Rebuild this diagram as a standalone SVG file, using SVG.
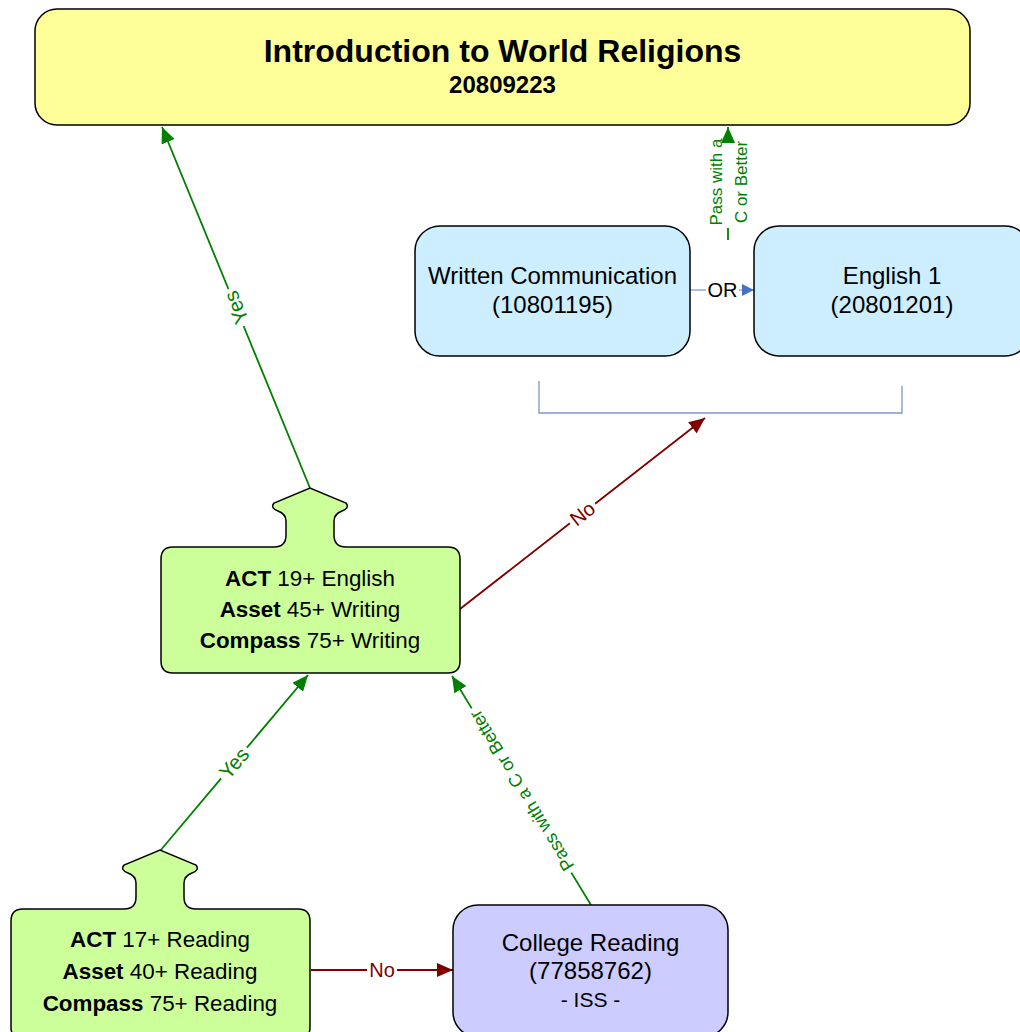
<svg xmlns="http://www.w3.org/2000/svg" width="1020" height="1032" viewBox="0 0 1020 1032">
<style>
text{font-family:"Liberation Sans",Arial,sans-serif}
.node{stroke:#000;stroke-width:1.5}
.yellow{fill:#ffff99}
.blue{fill:#cceeff}
.purple{fill:#ccccff}
.green{fill:#ccff99}
.t24{font-size:24px;fill:#000;text-anchor:middle}
.t22{font-size:22.4px;fill:#000;text-anchor:middle}
.g{stroke:#008000;stroke-width:1.8;fill:none}
.r{stroke:#800000;stroke-width:1.8;fill:none}
.gl{fill:#008000;font-size:20.5px;text-anchor:middle}
.rl{fill:#800000;font-size:20px;text-anchor:middle}
</style>
<defs>
<marker id="ag" markerUnits="userSpaceOnUse" markerWidth="16" markerHeight="14" refX="16" refY="7" orient="auto"><path d="M0,0 L16,7 L0,14 Z" fill="#008000"/></marker>
<marker id="ar" markerUnits="userSpaceOnUse" markerWidth="16" markerHeight="14" refX="16" refY="7" orient="auto"><path d="M0,0 L16,7 L0,14 Z" fill="#800000"/></marker>
<marker id="ab" markerUnits="userSpaceOnUse" markerWidth="12" markerHeight="12" refX="12" refY="6" orient="auto"><path d="M0,0 L12,6 L0,12 Z" fill="#4472c4"/></marker>
</defs>

<g id="connectors">
<path d="M690,290 L706,290 M739,290 L754,290" stroke="#8faadc" stroke-width="1.5" fill="none" marker-end="url(#ab)"/>
<text x="722.5" y="297" font-size="20" text-anchor="middle" fill="#000">OR</text>
<path d="M539,381 V413 H902 V386" stroke="#7d97c7" stroke-width="1.3" fill="none"/>
<path class="g" d="M728,240 L728,228 M728,140 L728,127" marker-end="url(#ag)"/>
<text transform="translate(728,182) rotate(-90)" font-size="17" text-anchor="middle" fill="#008000"><tspan x="0" y="-6">Pass with a</tspan><tspan x="0" y="19">C or Better</tspan></text>
<path class="g" d="M310,488 L243.6,326 M228.4,289 L162,127" marker-end="url(#ag)"/>
<text class="gl" transform="translate(236,307.5) rotate(-112.29)" dy="0.35em">Yes</text>
<path class="r" d="M460,609 L569.9,523.3 M595.1,503.7 L705,418" marker-end="url(#ar)"/>
<text class="rl" transform="translate(582.5,513.5) rotate(-37.94)" dy="0.35em">No</text>
<path class="g" d="M160,851 L221.1,778.3 M246.9,747.7 L308,675" marker-end="url(#ag)"/>
<text class="gl" transform="translate(234,763) rotate(-49.93)" dy="0.35em">Yes</text>
<path class="g" d="M591,905 L571.3,872.6 M471.7,708.4 L452,676" marker-end="url(#ag)"/>
<text transform="translate(521.5,790.5) rotate(-121.26)" dy="0.35em" font-size="18" text-anchor="middle" fill="#008000">Pass with a C or Better</text>
<path class="r" d="M311,970 L367,970 M397,970 L453,970" marker-end="url(#ar)"/>
<text class="rl" x="382" y="970" dy="0.35em">No</text>
</g>

<g id="node-intro">
<rect class="node yellow" x="35" y="9" width="935" height="116" rx="22"/>
<text x="502.5" y="62" font-size="32" font-weight="bold" text-anchor="middle" fill="#000">Introduction to World Religions</text>
<text x="502.5" y="93" font-size="24" font-weight="bold" text-anchor="middle" fill="#000">20809223</text>
</g>

<g id="node-written">
<rect class="node blue" x="415" y="226" width="275" height="130" rx="25"/>
<text class="t24" x="552.5" y="284">Written Communication</text>
<text class="t24" x="552.5" y="313">(10801195)</text>
</g>

<g id="node-english1">
<rect class="node blue" x="754" y="226" width="276" height="130" rx="25"/>
<text class="t24" x="892" y="284">English 1</text>
<text class="t24" x="892" y="313">(20801201)</text>
</g>

<g id="node-writing-scores" transform="translate(161,547)">
<path class="node green" d="M12,0 H113 Q125,0 125,-12 V-26 Q125,-33 117,-36 Q109,-39 113,-44 L149,-59 L185,-44 Q189,-39 181,-36 Q173,-33 173,-26 V-12 Q173,0 185,0 H287 Q299,0 299,12 V114 Q299,126 287,126 H12 Q0,126 0,114 V12 Q0,0 12,0 Z"/>
<text class="t22" x="149" y="39"><tspan font-weight="bold">ACT</tspan> 19+ English</text>
<text class="t22" x="149" y="70"><tspan font-weight="bold">Asset</tspan> 45+ Writing</text>
<text class="t22" x="149" y="101"><tspan font-weight="bold">Compass</tspan> 75+ Writing</text>
</g>

<g id="node-reading-scores" transform="translate(11,909)">
<path class="node green" d="M12,0 H113 Q125,0 125,-12 V-26 Q125,-33 117,-36 Q109,-39 113,-44 L149,-59 L185,-44 Q189,-39 181,-36 Q173,-33 173,-26 V-12 Q173,0 185,0 H287 Q299,0 299,12 V118 Q299,130 287,130 H12 Q0,130 0,118 V12 Q0,0 12,0 Z"/>
<text class="t22" x="149" y="38"><tspan font-weight="bold">ACT</tspan> 17+ Reading</text>
<text class="t22" x="149" y="70"><tspan font-weight="bold">Asset</tspan> 40+ Reading</text>
<text class="t22" x="149" y="102"><tspan font-weight="bold">Compass</tspan> 75+ Reading</text>
</g>

<g id="node-college-reading">
<rect class="node purple" x="453" y="905" width="275" height="132" rx="25"/>
<text class="t24" x="590.5" y="951">College Reading</text>
<text class="t24" x="590.5" y="979">(77858762)</text>
<text x="590.5" y="1007" font-size="21" text-anchor="middle" fill="#000">- ISS -</text>
</g>
</svg>
